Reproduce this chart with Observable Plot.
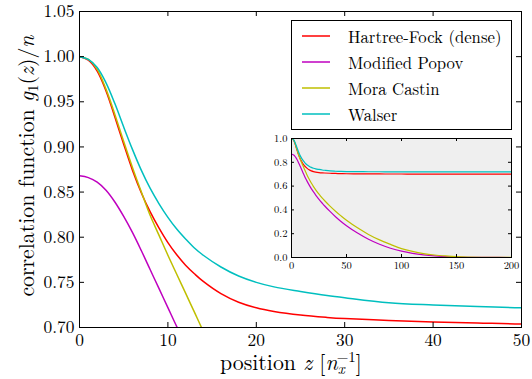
<!DOCTYPE html>
<html>
<head>
<meta charset="utf-8">
<script src="https://cdn.jsdelivr.net/npm/d3@7"></script>
<script src="https://cdn.jsdelivr.net/npm/@observablehq/plot@0.6"></script>
<style>
  html, body { margin: 0; padding: 0; background: white; }
  #wrap { position: relative; width: 532px; height: 379px; font-family: "Latin Modern Roman", "Liberation Serif", serif; }
  #wrap > svg { position: absolute; }
  #legend { position: absolute; left: 291px; top: 20px; width: 221px; height: 110px; box-sizing: border-box;
            border: 1px solid black; background: white; padding-top: 2px; }
  .row { height: 26px; display: flex; align-items: center; font-size: 16.7px; color: black; }
  .row svg { margin-left: 10px; margin-right: 18px; }
</style>
</head>
<body>
<div id="wrap"></div>
<script>
// ---------- data ----------
const seriesNames = ["Hartree-Fock (dense)", "Modified Popov", "Mora Castin", "Walser"];
const seriesColors = ["#ff0000", "#bf00bf", "#bfbf00", "#00bfbf"];
const zGrid = [0,1,2,3,4,5,6,7,8,9,10,11,12,13,14,16,18,20,22,25,28,30,35,40,45,50,60,70,80,90,100,110,120,130,140,150,160,180,200];
const hartreeFock = [1.000,0.996,0.984,0.962,0.933,0.903,0.874,0.849,0.828,0.810,0.794,0.7805,0.769,0.7595,0.751,0.7375,0.728,0.7218,0.7178,0.7138,0.7112,0.7099,0.7078,0.7062,0.705,0.7038,0.703,0.7025,0.702,0.7018,0.7015,0.7013,0.7012,0.701,0.701,0.701,0.701,0.701,0.701];
const modifiedPopov = [0.868,0.866,0.861,0.852,0.839,0.823,0.805,0.785,0.764,0.743,0.722,0.701,0.681,0.662,0.644,0.610,0.579,0.551,0.525,0.489,0.456,0.435,0.387,0.343,0.303,0.267,0.205,0.153,0.111,0.078,0.053,0.035,0.022,0.013,0.0075,0.004,0.002,0.0005,0];
const moraCastin = [1.000,0.997,0.986,0.964,0.936,0.906,0.877,0.850,0.824,0.802,0.780,0.759,0.738,0.717,0.696,0.659,0.626,0.596,0.569,0.532,0.499,0.479,0.432,0.389,0.3495,0.313,0.249,0.194,0.148,0.110,0.075,0.051,0.033,0.021,0.013,0.007,0.004,0.0012,0.0003];
const walser = [1.000,0.997,0.988,0.971,0.948,0.922,0.897,0.874,0.854,0.837,0.822,0.809,0.798,0.788,0.780,0.767,0.757,0.750,0.745,0.740,0.7355,0.733,0.7275,0.725,0.7232,0.722,0.7212,0.7207,0.7204,0.7202,0.7201,0.720,0.720,0.720,0.720,0.720,0.720,0.720,0.720];
const mainXTicks = [0,10,20,30,40,50];
const mainYTicks = [0.70,0.75,0.80,0.85,0.90,0.95,1.00,1.05];
const insetXTicks = [0,50,100,150,200];
const insetYTicks = [0.0,0.2,0.4,0.6,0.8,1.0];

// ---------- build ----------
const seriesValues = [hartreeFock, modifiedPopov, moraCastin, walser];
const rows = [];
seriesNames.forEach((name, k) => zGrid.forEach((z, i) => rows.push({name, z, v: seriesValues[k][i]})));
const colorScale = {domain: seriesNames, range: seriesColors};
const font = "'Latin Modern Roman', 'Liberation Serif', serif";

function inwardTicks(xt, yt, w, h, len) {
  return [
    Plot.ruleX(xt, {x: d => d, insetTop: h - len, stroke: "black"}),
    Plot.ruleX(xt, {x: d => d, insetBottom: h - len, stroke: "black"}),
    Plot.ruleY(yt, {y: d => d, insetRight: w - len, stroke: "black"}),
    Plot.ruleY(yt, {y: d => d, insetLeft: w - len, stroke: "black"})
  ];
}

const M = {w: 532, h: 379, l: 79, r: 11, t: 11, b: 52};
const mainPlot = Plot.plot({
  width: M.w, height: M.h,
  marginLeft: M.l, marginRight: M.r, marginTop: M.t, marginBottom: M.b,
  style: {fontFamily: font, fontSize: "17.4px", background: "transparent", color: "black", overflow: "visible"},
  color: colorScale,
  x: {domain: [0, 50]},
  y: {domain: [0.70, 1.05]},
  marks: [
    Plot.line(rows, {x: "z", y: "v", z: "name", stroke: "name", strokeWidth: 1.5, curve: "catmull-rom", clip: true}),
    ...inwardTicks(mainXTicks, mainYTicks, M.w - M.l - M.r, M.h - M.t - M.b, 5),
    Plot.frame({stroke: "black"}),
    Plot.axisX(mainXTicks, {tickSize: 0, tickPadding: 6, label: null, fontSize: 17.4, tickFormat: d => String(d)}),
    Plot.axisY(mainYTicks, {tickSize: 0, tickPadding: 5, label: null, fontSize: 17.4, tickFormat: d => d.toFixed(2)})
  ]
});
mainPlot.style.left = "0px"; mainPlot.style.top = "0px";

const svg = d3.select(mainPlot);
// y-axis label
const yl = svg.append("text").attr("transform", "translate(34,166) rotate(-90)")
  .attr("text-anchor", "middle").attr("font-size", 21.8).attr("fill", "black").attr("font-family", font);
yl.append("tspan").text("correlation function ");
yl.append("tspan").attr("font-style", "italic").text("g");
yl.append("tspan").attr("font-size", 15).attr("dy", 4).text("1");
yl.append("tspan").attr("dy", -4).text("(");
yl.append("tspan").attr("font-style", "italic").text("z");
yl.append("tspan").text(")/");
yl.append("tspan").attr("font-style", "italic").text("n");
// x-axis label
const xl = svg.append("text").attr("x", 291).attr("y", 370)
  .attr("text-anchor", "middle").attr("font-size", 21.8).attr("fill", "black").attr("font-family", font);
xl.append("tspan").text("position ");
xl.append("tspan").attr("font-style", "italic").text("z");
xl.append("tspan").text(" [");
xl.append("tspan").attr("font-style", "italic").text("n");
xl.append("tspan").attr("font-style", "italic").attr("font-size", 15).attr("dy", 4).text("x");
xl.append("tspan").attr("font-size", 15).attr("dx", -8).attr("dy", -12).text("\u22121");
xl.append("tspan").attr("dy", 8).text("]");

const wrap = document.getElementById("wrap");
wrap.appendChild(mainPlot);

// legend
const legend = document.createElement("div");
legend.id = "legend";
seriesNames.forEach((name, k) => {
  const row = document.createElement("div");
  row.className = "row";
  row.innerHTML = `<svg width="28" height="4"><line x1="0" x2="28" y1="2" y2="2" stroke="${seriesColors[k]}" stroke-width="1.5"/></svg><span>${name}</span>`;
  legend.appendChild(row);
});
wrap.appendChild(legend);

// inset
const I = {w: 262, h: 150, l: 31, r: 11, t: 10, b: 21};
const insetPlot = Plot.plot({
  width: I.w, height: I.h,
  marginLeft: I.l, marginRight: I.r, marginTop: I.t, marginBottom: I.b,
  style: {fontFamily: font, fontSize: "10.5px", background: "transparent", color: "black", overflow: "visible"},
  color: colorScale,
  x: {domain: [0, 200]},
  y: {domain: [0, 1]},
  marks: [
    Plot.frame({fill: "#efefef", stroke: null}),
    Plot.line(rows, {x: "z", y: "v", z: "name", stroke: "name", strokeWidth: 1.2, curve: "catmull-rom", clip: true}),
    ...inwardTicks(insetXTicks, insetYTicks, I.w - I.l - I.r, I.h - I.t - I.b, 3),
    Plot.frame({stroke: "black"}),
    Plot.axisX(insetXTicks, {tickSize: 0, tickPadding: 4, label: null, fontSize: 10.5, tickFormat: d => String(d)}),
    Plot.axisY(insetYTicks, {tickSize: 0, tickPadding: 4, label: null, fontSize: 10.5, tickFormat: d => d.toFixed(1)})
  ]
});
insetPlot.style.left = "260px"; insetPlot.style.top = "128px";
wrap.appendChild(insetPlot);
</script>
</body>
</html>
